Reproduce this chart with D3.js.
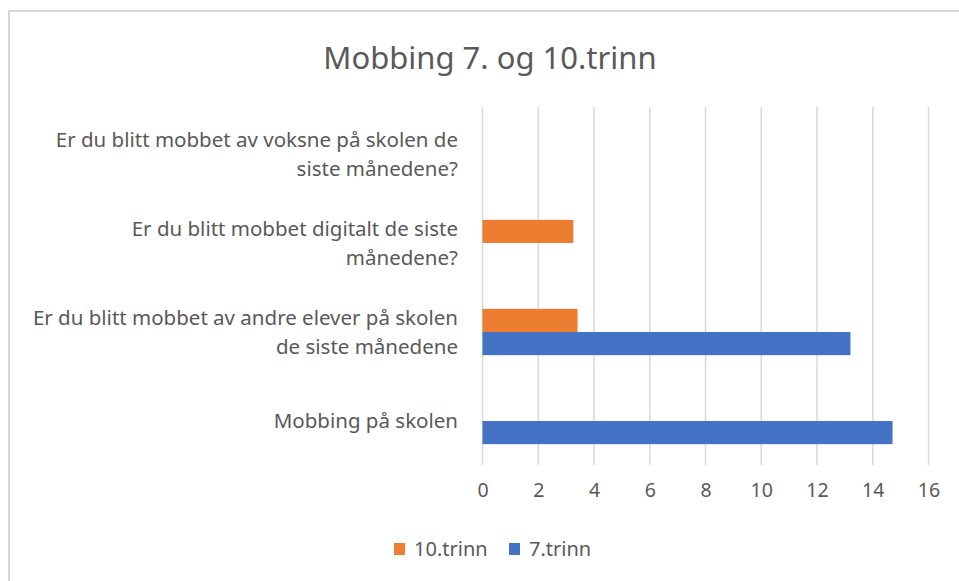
<!DOCTYPE html>
<html>
<head>
    <script src="https://cdnjs.cloudflare.com/ajax/libs/d3/7.8.5/d3.min.js"></script>
    <style>
        body { margin: 0; background: #fff; }
        text { font-family: 'Noto Sans', 'Open Sans', sans-serif; fill: #595959; }
    </style>
</head>
<body>
    <script>
        // data
        const categories = [
            'Er du blitt mobbet av voksne på skolen de siste månedene?',
            'Er du blitt mobbet digitalt de siste månedene?',
            'Er du blitt mobbet av andre elever på skolen de siste månedene',
            'Mobbing på skolen'
        ]
        const labelLines = [
            ['Er du blitt mobbet av voksne på skolen de', 'siste månedene?'],
            ['Er du blitt mobbet digitalt de siste', 'månedene?'],
            ['Er du blitt mobbet av andre elever på skolen', 'de siste månedene'],
            ['Mobbing på skolen']
        ]
        const seriesNames = ['10.trinn', '7.trinn']
        const trinn10 = [0, 3.26, 3.41, 0]
        const trinn7 = [0, 0, 13.2, 14.71]
        const xTicks = [0, 2, 4, 6, 8, 10, 12, 14, 16]
        const colors = ['#ED7D31', '#4472C4']

        const w = 959
        const h = 581

        const svg = d3.select('body')
            .append('svg')
            .attr('width', w)
            .attr('height', h)

        // chart border
        svg.append('rect')
            .attr('x', 9)
            .attr('y', 11)
            .attr('width', w)
            .attr('height', h)
            .attr('fill', 'none')
            .attr('stroke', '#d9d9d9')
            .attr('stroke-width', 2)

        svg.append('text')
            .text('Mobbing 7. og 10.trinn')
            .attr('x', 490)
            .attr('y', 69)
            .attr('text-anchor', 'middle')
            .style('font-size', '31px')

        const x = d3.scaleLinear().domain([0, 16]).range([482.5, 928.5])
        const y = d3.scaleBand().domain(categories).range([109.5, 465.5]).paddingInner(0.48).paddingOuter(0.24)
        const ySub = d3.scaleBand().domain(seriesNames).range([0, y.bandwidth()])

        // gridlines
        svg.append('g')
            .selectAll('line')
            .data(xTicks)
            .enter()
            .append('line')
            .attr('x1', d => x(d))
            .attr('x2', d => x(d))
            .attr('y1', 107)
            .attr('y2', 465)
            .attr('stroke', '#d9d9d9')
            .attr('stroke-width', 1.5)

        const xAxis = svg.append('g')
            .attr('transform', 'translate(0,483)')
            .call(d3.axisBottom(x).tickValues(xTicks).tickSize(0).tickPadding(0))
        xAxis.select('.domain').remove()
        xAxis.selectAll('text')
            .attr('dy', '0.71em')
            .style('font-size', '19.5px')
            .style('fill', '#595959')
            .style('font-family', "'Noto Sans', sans-serif")

        const rows = categories.map((c, i) => ({ cat: c, vals: [trinn10[i], trinn7[i]] }))

        const groups = svg.selectAll('.cat')
            .data(rows)
            .enter()
            .append('g')
            .attr('class', 'cat')
            .attr('transform', d => 'translate(0,' + y(d.cat) + ')')

        groups.selectAll('rect')
            .data(d => d.vals.map((v, j) => ({ name: seriesNames[j], v: v, j: j })))
            .enter()
            .filter(d => d.v > 0)
            .append('rect')
            .attr('x', x(0))
            .attr('y', d => ySub(d.name))
            .attr('width', d => x(d.v) - x(0))
            .attr('height', ySub.bandwidth())
            .attr('fill', d => colors[d.j])

        // category labels
        const lineGap = 29
        svg.selectAll('.lbl')
            .data(categories)
            .enter()
            .append('text')
            .attr('class', 'lbl')
            .attr('text-anchor', 'end')
            .style('font-size', '20.5px')
            .each(function (d, i) {
                const lines = labelLines[i]
                const cy = y(d) + y.bandwidth() / 2
                const first = cy - (lines.length - 1) * lineGap / 2
                lines.forEach((ln, k) => {
                    d3.select(this).append('tspan')
                        .attr('x', 458)
                        .attr('y', first + k * lineGap)
                        .attr('dy', '0.35em')
                        .text(ln)
                })
            })

        // legend
        const legX = [394, 509]
        const leg = svg.selectAll('.leg')
            .data(seriesNames)
            .enter()
            .append('g')
            .attr('class', 'leg')
            .attr('transform', (d, i) => 'translate(' + legX[i] + ',543)')
        leg.append('rect')
            .attr('width', 11)
            .attr('height', 12)
            .attr('fill', (d, i) => colors[i])
        leg.append('text')
            .text(d => d)
            .attr('x', 20)
            .attr('y', 13)
            .style('font-size', '20px')
    </script>
</body>
</html>
